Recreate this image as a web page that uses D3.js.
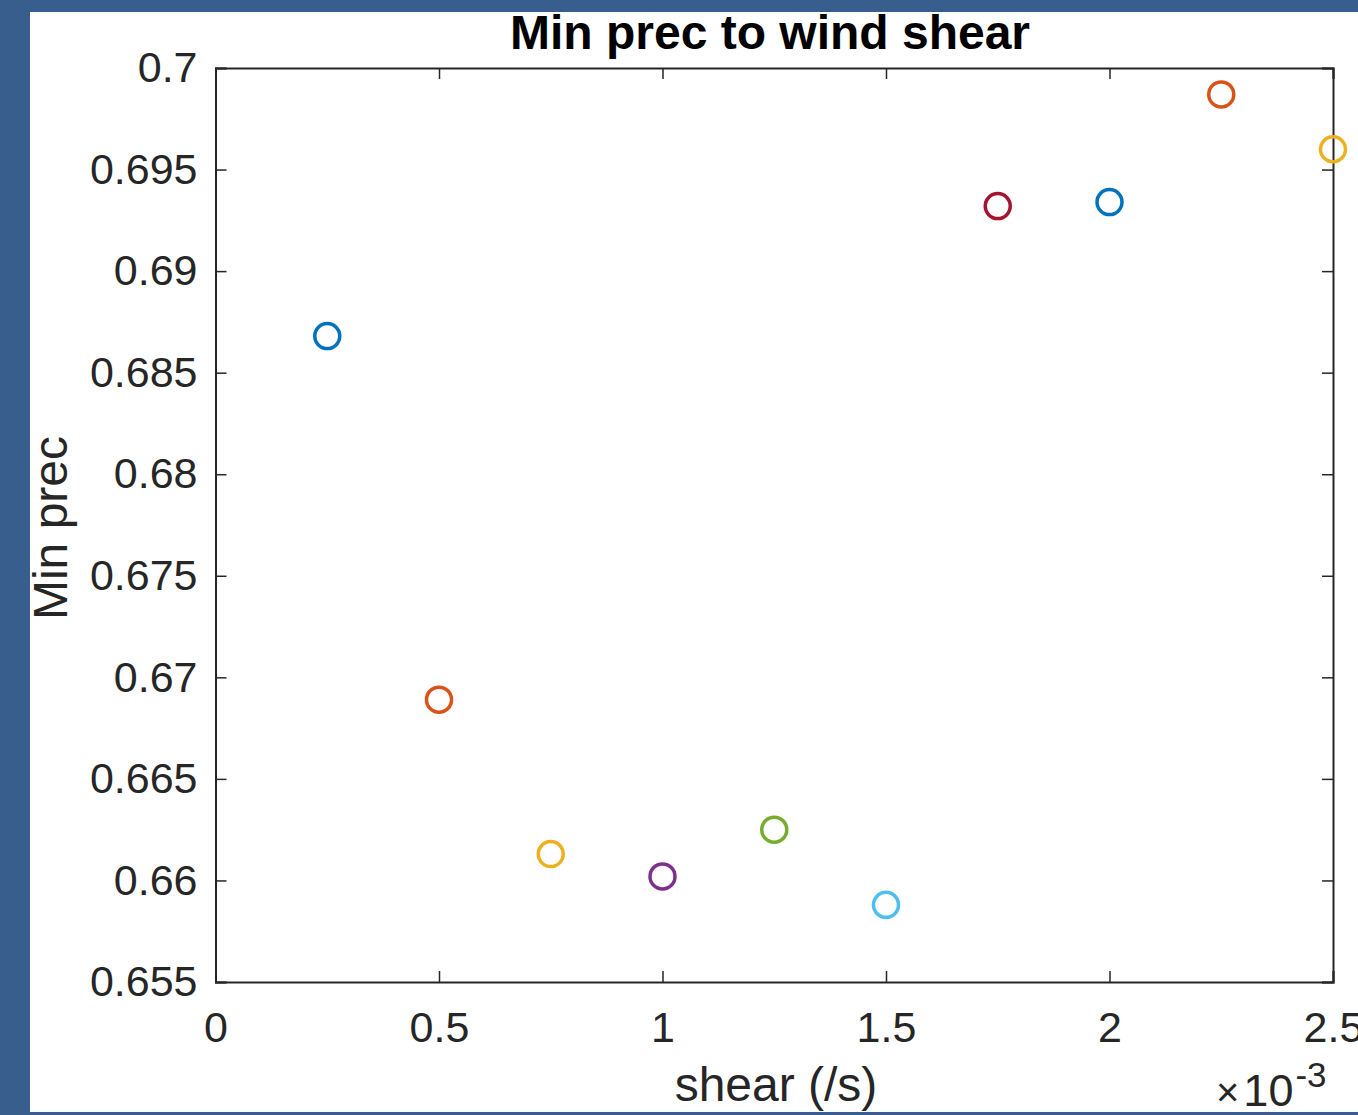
<!DOCTYPE html>
<html>
<head>
<meta charset="utf-8">
<script src="https://cdn.jsdelivr.net/npm/d3@7"></script>
<style>
  html, body { margin: 0; padding: 0; background: #375e8c; }
  text { font-family: "Liberation Sans", Arial, Helvetica, sans-serif; }
</style>
</head>
<body>
<div id="chart"></div>
<script>
// shear values (x 1e-3 /s)
const shear = [0.25, 0.5, 0.75, 1.0, 1.25, 1.5, 1.75, 2.0, 2.25, 2.5];
const minPrec = [0.6868, 0.6689, 0.6613, 0.6602, 0.6625, 0.6588, 0.6932, 0.6934, 0.6987, 0.6960];
const pointColors = ['#0072BD', '#D95319', '#EDB120', '#7E2F8E', '#77AC30', '#4DBEEE', '#A2142F', '#0072BD', '#D95319', '#EDB120'];
const xTicks = [0, 0.5, 1, 1.5, 2, 2.5];
const yTicks = [0.655, 0.66, 0.665, 0.67, 0.675, 0.68, 0.685, 0.69, 0.695, 0.7];

const W = 1358, H = 1115;
const plotL = 215.5, plotR = 1333, plotT = 68, plotB = 982;
const axisColor = '#262626';

const svg = d3.select('#chart').append('svg')
    .attr('width', W)
    .attr('height', H);

svg.append('rect').attr('width', W).attr('height', H).attr('fill', '#375e8c');
svg.append('rect').attr('x', 30).attr('y', 12).attr('width', W - 30).attr('height', 1100).attr('fill', '#ffffff');

const x = d3.scaleLinear().domain([0, 2.5]).range([plotL, plotR]);
const y = d3.scaleLinear().domain([0.655, 0.7]).range([plotB, plotT]);

const tickLen = 11;
const fmtY = d => d3.format('.3~f')(d);
const fmtX = d => d3.format('~g')(d);

// bottom axis, labels outside, ticks inside
const gx = svg.append('g')
    .attr('transform', 'translate(0,' + plotB + ')')
    .call(d3.axisBottom(x).tickValues(xTicks).tickFormat(fmtX).tickSize(-tickLen).tickPadding(29));
// top axis
const gxt = svg.append('g')
    .attr('transform', 'translate(0,' + plotT + ')')
    .call(d3.axisTop(x).tickValues(xTicks).tickFormat('').tickSize(-tickLen));
// left axis
const gy = svg.append('g')
    .attr('transform', 'translate(' + plotL + ',0)')
    .call(d3.axisLeft(y).tickValues(yTicks).tickFormat(fmtY).tickSize(-tickLen).tickPadding(18));
// right axis
const gyr = svg.append('g')
    .attr('transform', 'translate(' + plotR + ',0)')
    .call(d3.axisRight(y).tickValues(yTicks).tickFormat('').tickSize(-tickLen));

[gx, gxt, gy, gyr].forEach(g => {
  g.select('.domain').attr('stroke', axisColor).attr('stroke-width', 2);
  g.selectAll('.tick line').attr('stroke', axisColor).attr('stroke-width', 1.5);
  g.selectAll('.tick text')
    .attr('fill', axisColor)
    .style('font-size', '43px')
    .style('font-family', '"Liberation Sans", Arial, sans-serif');
});

// points
svg.append('g')
  .selectAll('circle')
  .data(shear)
  .enter().append('circle')
    .attr('cx', d => x(d))
    .attr('cy', (d, i) => y(minPrec[i]))
    .attr('r', 12.5)
    .attr('fill', 'none')
    .attr('stroke', (d, i) => pointColors[i])
    .attr('stroke-width', 3.5);

// title
svg.append('text')
    .attr('x', 770)
    .attr('y', 49)
    .attr('text-anchor', 'middle')
    .attr('font-weight', 'bold')
    .style('font-size', '48px')
    .attr('fill', '#000')
    .text('Min prec to wind shear');

// x label
svg.append('text')
    .attr('x', 776)
    .attr('y', 1101)
    .attr('text-anchor', 'middle')
    .style('font-size', '48px')
    .attr('fill', axisColor)
    .text('shear (/s)');

// y label
svg.append('text')
    .attr('transform', 'translate(67,' + ((plotT + plotB) / 2 + 3) + ') rotate(-90)')
    .attr('text-anchor', 'middle')
    .style('font-size', '48px')
    .attr('fill', axisColor)
    .text('Min prec');

// exponent
const expo = svg.append('text')
    .attr('x', 1216)
    .attr('y', 1106)
    .style('font-size', '45px')
    .attr('fill', axisColor);
expo.append('tspan').style('font-size', '40px').text('\u00d7');
expo.append('tspan').attr('dx', 4).text('10');
expo.append('tspan').attr('dy', -19).attr('dx', 2).style('font-size', '35px').text('-3');
</script>
</body>
</html>
